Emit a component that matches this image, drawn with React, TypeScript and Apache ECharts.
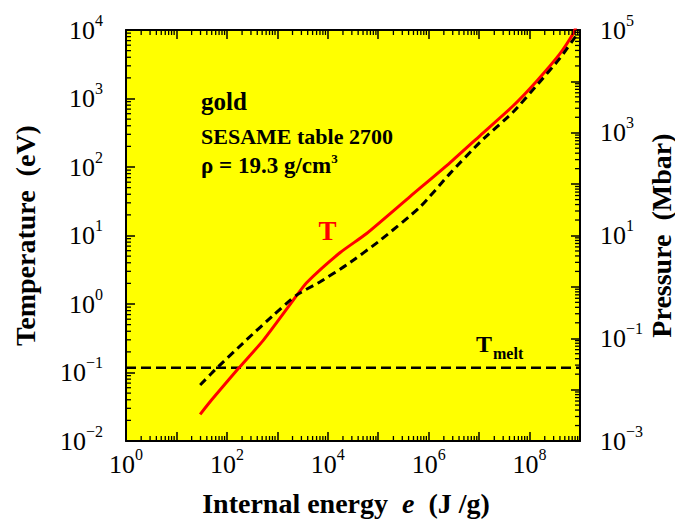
import React, { useEffect, useRef } from 'react';
import * as echarts from 'echarts';

// SESAME table 2700 (gold): temperature and pressure against specific internal energy
const ENERGY_T = [29.5, 50, 170, 525, 2090, 3800, 17400, 58900, 4.27e5, 2.63e6, 1.05e7, 4.68e7, 1.41e8, 3.98e8, 7.24e8, 8.5e8];
const TEMPERATURE = [0.0245, 0.04, 0.115, 0.295, 1.15, 2.04, 5.6, 10.7, 37, 115, 288, 776, 1820, 4470, 8710, 11500];
const ENERGY_P = [29.5, 57.5, 245, 832, 2400, 7080, 24000, 1.1e5, 6.76e5, 2.63e6, 1.05e7, 4.68e7, 1.41e8, 3.98e8, 8.5e8];
const PRESSURE = [0.0123, 0.024, 0.093, 0.28, 0.69, 1.26, 2.7, 8.1, 36, 160, 660, 2500, 8500, 28000, 79000];

// melting temperature (eV)
const T_MELT = 0.117;

// axis ranges as decade exponents
const X_DECADES = [0, 9];
const T_DECADES = [-2, 4];
const P_DECADES = [-3, 5];

const FONT = "'Liberation Serif', 'Times New Roman', Times, serif";

function minorValues(lo: number, hi: number): number[] {
  const out: number[] = [];
  for (let n = lo; n < hi; n++) {
    for (let k = 2; k <= 9; k++) out.push(k * Math.pow(10, n));
  }
  return out;
}

function powerLabel(every: number, offset: number) {
  return (v: number) => {
    const n = Math.round(Math.log10(v));
    if (((n - offset) % every + every) % every !== 0) return '';
    const exp = n < 0 ? '\u2212' + -n : String(n);
    return '{b|10}{s|' + exp + '}';
  };
}

const labelRich = {
  b: { fontFamily: FONT, fontSize: 26, lineHeight: 36, color: '#000' },
  s: { fontFamily: FONT, fontSize: 16, lineHeight: 16, verticalAlign: 'top', color: '#000' },
};

const axisLineStyle = { show: true, onZero: false, lineStyle: { color: '#000', width: 2 } };
const majorTick = { show: true, inside: true, length: 9, lineStyle: { color: '#000', width: 1.5 } };

// log-spaced minor ticks drawn on the grid frame
function minorTickSeries(kind: 'x' | 'left' | 'right', yAxisIndex: number, values: number[], refY: number) {
  return {
    type: 'custom',
    xAxisIndex: 0,
    yAxisIndex,
    silent: true,
    z: 5,
    data: values.map((v) => (kind === 'x' ? [v, refY] : [10, v])),
    renderItem: (params: any, api: any) => {
      const cs = params.coordSys;
      const pt = api.coord([api.value(0), api.value(1)]);
      const len = 5;
      const style = { stroke: '#000', lineWidth: 1.3 };
      if (kind === 'x') {
        const x = pt[0];
        return {
          type: 'group',
          children: [
            { type: 'line', shape: { x1: x, y1: cs.y + cs.height, x2: x, y2: cs.y + cs.height - len }, style },
            { type: 'line', shape: { x1: x, y1: cs.y, x2: x, y2: cs.y + len }, style },
          ],
        };
      }
      const y = pt[1];
      const x0 = kind === 'left' ? cs.x : cs.x + cs.width;
      const dir = kind === 'left' ? 1 : -1;
      return { type: 'line', shape: { x1: x0, y1: y, x2: x0 + dir * len, y2: y }, style };
    },
  };
}

export default function App() {
  const ref = useRef<HTMLDivElement>(null);

  useEffect(() => {
    if (!ref.current) return;
    const chart = echarts.init(ref.current, undefined, { renderer: 'svg' });

    const xMin = Math.pow(10, X_DECADES[0]);
    const xMax = Math.pow(10, X_DECADES[1]);

    const xBase = {
      type: 'log',
      logBase: 10,
      min: xMin,
      max: xMax,
      interval: 1,
      axisLine: axisLineStyle,
      axisTick: majorTick,
      splitLine: { show: false },
      minorTick: { show: false },
    };

    chart.setOption({
      animation: false,
      backgroundColor: '#ffffff',
      textStyle: { fontFamily: FONT },
      grid: {
        left: 126,
        top: 30,
        width: 454,
        height: 411,
        show: true,
        backgroundColor: '#ffff00',
        borderWidth: 0,
        containLabel: false,
        outerBoundsMode: 'none',
      },
      xAxis: [
        {
          ...xBase,
          position: 'bottom',
          axisLabel: { formatter: powerLabel(2, 0), margin: 5, rich: labelRich },
          name: '{b|Internal energy  }{i|e}{b|  (J /g)}',
          nameLocation: 'middle',
          nameGap: 48,
          nameMoveOverlap: false,
          nameTextStyle: {
            padding: [0, 14, 0, 0],
            rich: {
              b: { fontFamily: FONT, fontSize: 28, fontWeight: 'bold', color: '#000' },
              i: { fontFamily: FONT, fontSize: 28, fontWeight: 'bold', fontStyle: 'italic', color: '#000' },
            },
          },
        },
        {
          ...xBase,
          position: 'top',
          axisLabel: { show: false },
        },
      ],
      yAxis: [
        {
          type: 'log',
          logBase: 10,
          min: Math.pow(10, T_DECADES[0]),
          max: Math.pow(10, T_DECADES[1]),
          interval: 1,
          position: 'left',
          axisLine: axisLineStyle,
          axisTick: majorTick,
          splitLine: { show: false },
          axisLabel: { formatter: powerLabel(1, 0), margin: 23, rich: labelRich },
          name: 'Temperature  (eV)',
          nameLocation: 'middle',
          nameGap: 87,
          nameMoveOverlap: false,
          nameTextStyle: { fontFamily: FONT, fontSize: 28, fontWeight: 'bold', color: '#000' },
        },
        {
          type: 'log',
          logBase: 10,
          min: Math.pow(10, P_DECADES[0]),
          max: Math.pow(10, P_DECADES[1]),
          interval: 1,
          position: 'right',
          axisLine: axisLineStyle,
          axisTick: majorTick,
          splitLine: { show: false },
          axisLabel: { formatter: powerLabel(2, 1), margin: 20, rich: labelRich },
          name: 'Pressure  (Mbar)',
          nameLocation: 'middle',
          nameGap: 67,
          nameMoveOverlap: false,
          nameTextStyle: { fontFamily: FONT, fontSize: 28, lineHeight: 28, fontWeight: 'bold', color: '#000' },
        },
      ],
      series: [
        {
          name: 'T_melt',
          type: 'line',
          xAxisIndex: 0,
          yAxisIndex: 0,
          z: 2,
          showSymbol: false,
          silent: true,
          data: [
            [xMin, T_MELT],
            [xMax, T_MELT],
          ],
          lineStyle: { color: '#000', width: 2.5, type: [10, 5] },
        },
        {
          name: 'T',
          type: 'line',
          xAxisIndex: 0,
          yAxisIndex: 0,
          z: 3,
          showSymbol: false,
          smooth: 0.2,
          data: ENERGY_T.map((e, i) => [e, TEMPERATURE[i]]),
          lineStyle: { color: '#ff0000', width: 3 },
        },
        {
          name: 'P',
          type: 'line',
          xAxisIndex: 0,
          yAxisIndex: 1,
          z: 4,
          showSymbol: false,
          smooth: 0.2,
          data: ENERGY_P.map((e, i) => [e, PRESSURE[i]]),
          lineStyle: { color: '#000', width: 3, type: [8, 5] },
        },
        minorTickSeries('x', 0, minorValues(X_DECADES[0], X_DECADES[1]), 1),
        minorTickSeries('left', 0, minorValues(T_DECADES[0], T_DECADES[1]), 1),
        minorTickSeries('right', 1, minorValues(P_DECADES[0], P_DECADES[1]), 1),
      ],
      graphic: [
        {
          type: 'text',
          x: 201,
          y: 101.5,
          z: 10,
          style: { text: 'gold', fontFamily: FONT, fontSize: 25, fontWeight: 'bold', fill: '#000', align: 'left', verticalAlign: 'middle' },
        },
        {
          type: 'text',
          x: 201,
          y: 136,
          z: 10,
          style: { text: 'SESAME table 2700', fontFamily: FONT, fontSize: 22, fontWeight: 'bold', fill: '#000', align: 'left', verticalAlign: 'middle' },
        },
        {
          type: 'text',
          x: 201,
          y: 165.5,
          z: 10,
          style: {
            text: '{a|\u03c1 = 19.3 g/cm}{s|3}',
            align: 'left',
            verticalAlign: 'middle',
            rich: {
              a: { fontFamily: FONT, fontSize: 23, fontWeight: 'bold', lineHeight: 28, fill: '#000' },
              s: { fontFamily: FONT, fontSize: 13, fontWeight: 'bold', lineHeight: 13, verticalAlign: 'top', fill: '#000' },
            },
          },
        },
        {
          type: 'text',
          x: 327.5,
          y: 231,
          z: 10,
          style: { text: 'T', fontFamily: FONT, fontSize: 27, fontWeight: 'bold', fill: '#ff0000', align: 'center', verticalAlign: 'middle' },
        },
        {
          type: 'text',
          x: 476,
          y: 343.5,
          z: 10,
          style: { text: 'T', fontFamily: FONT, fontSize: 24, fontWeight: 'bold', fill: '#000', align: 'left', verticalAlign: 'middle' },
        },
        {
          type: 'text',
          x: 493,
          y: 353.6,
          z: 10,
          style: { text: 'melt', fontFamily: FONT, fontSize: 16, fontWeight: 'bold', fill: '#000', align: 'left', verticalAlign: 'middle' },
        },
      ],
    });

    return () => chart.dispose();
  }, []);

  return (
    <div
      ref={ref}
      style={{ position: 'fixed', left: 0, top: 0, width: 675, height: 523, background: '#fff' }}
    />
  );
}
